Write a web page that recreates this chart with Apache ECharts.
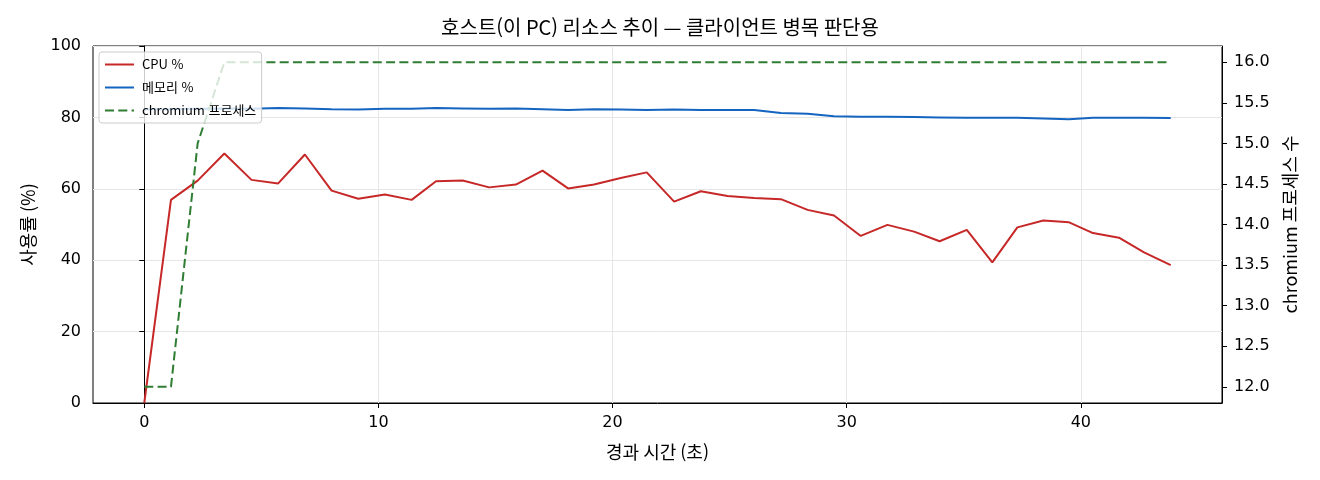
<!DOCTYPE html>
<html lang="ko">
  <head>
    <meta charset="UTF-8" />
    <title>호스트 리소스 추이</title>
    <script src="https://cdn.jsdelivr.net/npm/echarts@6/dist/echarts.min.js"></script>
    <style>
      html, body { margin: 0; padding: 0; background: #fff; }
      #main { width: 1320px; height: 480px; }
    </style>
  </head>
  <body>
    <div id="main"></div>
    <script>
      // 경과 시간 (초)
      var times = [0, 1.14, 2.28, 3.42, 4.58, 5.72, 6.86, 8.0, 9.14, 10.28,
        11.42, 12.46, 13.6, 14.73, 15.87, 17.01, 18.1, 19.21, 20.35, 21.46,
        22.63, 23.77, 24.91, 26.05, 27.19, 28.33, 29.46, 30.6, 31.74, 32.88,
        33.97, 35.13, 36.22, 37.29, 38.4, 39.5, 40.52, 41.63, 42.7, 43.84];
      var cpu = [0, 56.9, 62.3, 69.9, 62.5, 61.5, 69.6, 59.5, 57.2, 58.4,
        56.9, 62.1, 62.3, 60.4, 61.2, 65.1, 60.1, 61.2, 63.0, 64.6,
        56.4, 59.3, 58.0, 57.4, 57.1, 54.1, 52.5, 46.8, 49.9, 48.0,
        45.3, 48.5, 39.4, 49.2, 51.1, 50.6, 47.6, 46.3, 42.2, 38.6];
      var mem = [82.3, 82.3, 82.4, 82.5, 82.4, 82.6, 82.5, 82.3, 82.2, 82.4,
        82.4, 82.6, 82.5, 82.4, 82.5, 82.3, 82.1, 82.3, 82.2, 82.1,
        82.2, 82.1, 82.1, 82.1, 81.2, 81.0, 80.3, 80.2, 80.2, 80.1,
        80.0, 79.9, 79.9, 79.9, 79.7, 79.5, 79.9, 79.9, 79.9, 79.8];
      var procs = [12, 12, 15, 16, 16, 16, 16, 16, 16, 16,
        16, 16, 16, 16, 16, 16, 16, 16, 16, 16,
        16, 16, 16, 16, 16, 16, 16, 16, 16, 16,
        16, 16, 16, 16, 16, 16, 16, 16, 16, 16];
      var xTicks = [0, 10, 20, 30, 40];
      var rightTicks = [12, 12.5, 13, 13.5, 14, 14.5, 15, 15.5, 16];

      function pairs(ys) {
        var out = [];
        for (var i = 0; i < times.length; i++) out.push([times[i], ys[i]]);
        return out;
      }

      var cjk = "'Noto Sans CJK KR', sans-serif";
      var num = "'DejaVu Sans', 'Noto Sans CJK KR', sans-serif";

      var myChart = echarts.init(document.getElementById("main"));
      var option = {
        backgroundColor: "#fff",
        animation: false,
        title: {
          text: "호스트(이 PC) 리소스 추이 — 클라이언트 병목 판단용",
          left: "center",
          top: 12,
          textStyle: { fontFamily: cjk, fontSize: 20, fontWeight: "normal", color: "#000" },
        },
        grid: {
          left: 93,
          right: 98,
          top: 46,
          bottom: 77,
          show: true,
          borderColor: "#000",
          borderWidth: 1,
        },
        legend: {
          orient: "vertical",
          left: 99,
          top: 52,
          padding: [6, 6, 6, 5],
          itemWidth: 29,
          itemHeight: 14,
          itemGap: 10,
          backgroundColor: "rgba(255,255,255,0.8)",
          borderColor: "#cccccc",
          borderWidth: 1,
          borderRadius: 3,
          itemStyle: { opacity: 0 },
          textStyle: { fontFamily: cjk, fontSize: 13, color: "#000", padding: [0, 0, 0, 3] },
          data: ["CPU %", "메모리 %", "chromium 프로세스"],
        },
        xAxis: {
          type: "value",
          min: -2.19,
          max: 46.03,
          name: "경과 시간 (초)",
          nameLocation: "middle",
          nameGap: 40,
          nameTextStyle: { fontFamily: cjk, fontSize: 18, color: "#000" },
          axisLine: { show: true, lineStyle: { color: "#000", width: 1 } },
          axisTick: { show: true, length: 5, customValues: xTicks, lineStyle: { color: "#000" } },
          axisLabel: {
            customValues: xTicks,
            margin: 12,
            fontFamily: num,
            fontSize: 16,
            color: "#000",
          },
          splitLine: { show: true, lineStyle: { color: "#e6e6e6", width: 1 } },
        },
        yAxis: [
          {
            type: "value",
            min: 0,
            max: 100,
            interval: 20,
            position: "left",
            name: "사용률 (%)",
            nameLocation: "middle",
            nameRotate: 90,
            nameGap: 56,
            nameTextStyle: { fontFamily: cjk, fontSize: 18, color: "#000" },
            axisLine: { show: true, lineStyle: { color: "#000", width: 1 } },
            axisTick: { show: true, length: 5, lineStyle: { color: "#000" } },
            axisLabel: { margin: 12, fontFamily: num, fontSize: 16, color: "#000" },
            splitLine: { show: true, lineStyle: { color: "#e6e6e6", width: 1 } },
          },
          {
            type: "value",
            min: 11.8,
            max: 16.2,
            position: "right",
            name: "chromium 프로세스 수",
            nameLocation: "middle",
            nameRotate: 90,
            nameGap: 59,
            nameTextStyle: { fontFamily: cjk, fontSize: 18, color: "#000" },
            axisLine: { show: true, lineStyle: { color: "#000", width: 1 } },
            axisTick: { show: true, length: 5, customValues: rightTicks, lineStyle: { color: "#000" } },
            axisLabel: {
              customValues: rightTicks,
              margin: 12,
              fontFamily: num,
              fontSize: 16,
              color: "#000",
              formatter: function (v) { return v.toFixed(1); },
            },
            splitLine: { show: false },
          },
        ],
        series: [
          {
            name: "CPU %",
            type: "line",
            yAxisIndex: 0,
            symbol: "none",
            lineStyle: { color: "#c62828", width: 2 },
            itemStyle: { color: "#c62828" },
            data: pairs(cpu),
          },
          {
            name: "메모리 %",
            type: "line",
            yAxisIndex: 0,
            symbol: "none",
            lineStyle: { color: "#1565c0", width: 2 },
            itemStyle: { color: "#1565c0" },
            data: pairs(mem),
          },
          {
            name: "chromium 프로세스",
            type: "line",
            yAxisIndex: 1,
            symbol: "none",
            lineStyle: { color: "#2e7d32", width: 2, type: [9, 4.3] },
            itemStyle: { color: "#2e7d32" },
            data: pairs(procs),
          },
        ],
      };
      option && myChart.setOption(option);
    </script>
  </body>
</html>
